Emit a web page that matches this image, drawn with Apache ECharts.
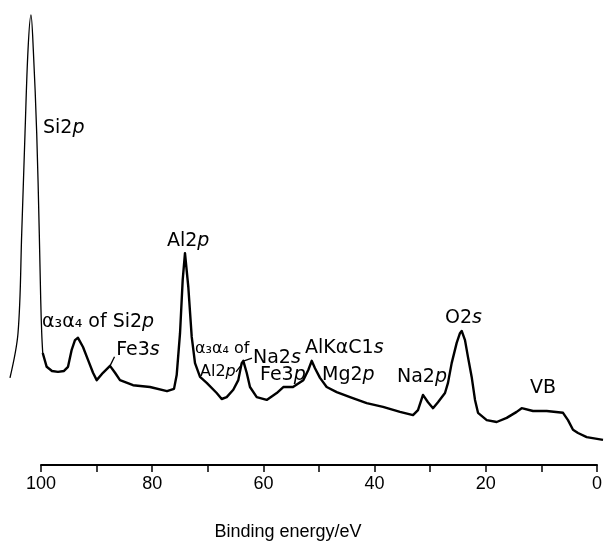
<!DOCTYPE html>
<html>
<head>
<meta charset="utf-8">
<script src="https://cdn.jsdelivr.net/npm/echarts@6/dist/echarts.min.js"></script>
<style>
  html, body { margin: 0; padding: 0; background: #fff; }
  #chart { width: 605px; height: 546px; }
</style>
</head>
<body>
<div id="chart"></div>
<script>
// XPS survey of the shallow core levels and valence band (binding energy in eV, intensity in arbitrary units)
const energy = [
  105.57,104.13,103.46,102.87,102.33,101.80,101.38,100.77,100.31,100.05,
  99.87,99.69,98.98,98.03,96.95,95.87,95.15,94.49,93.90,93.36,
  92.46,91.56,90.66,90.00,88.87,87.61,86.71,85.82,83.48,80.43,
  77.38,76.12,75.64,75.04,74.56,74.15,73.55,72.94,72.35,71.45,
  70.25,68.46,67.56,66.66,65.48,64.58,63.97,63.68,63.07,62.48,
  61.27,59.48,57.68,56.50,54.76,52.91,52.01,51.40,50.81,49.91,
  48.71,46.91,44.52,41.53,38.60,35.55,33.21,32.32,31.42,30.52,
  29.62,28.73,27.47,26.93,26.27,25.37,24.78,24.47,23.88,23.34,
  22.68,22.08,21.54,19.98,18.19,16.39,14.60,13.70,11.67,9.21,
  6.28,5.39,4.49,3.59,2.03,-0.90
];
const intensity = [
  19.6,29.3,51.1,72.8,90.9,98.5,90.9,72.8,51.1,36.5,
  29.3,25.0,22.0,21.1,20.9,21.1,22.0,25.7,27.8,28.3,
  26.3,23.5,20.7,19.1,20.7,22.2,20.7,19.1,18.0,17.6,
  16.7,17.2,20.2,29.3,40.9,46.7,39.3,28.5,22.8,19.8,
  18.5,16.3,15.0,15.4,17.0,19.1,22.8,23.3,20.7,17.6,
  15.4,14.8,16.3,17.6,17.6,19.1,21.3,23.3,21.7,19.6,
  17.6,16.5,15.4,14.1,13.3,12.2,11.5,12.6,15.9,14.3,
  13.0,14.3,16.3,18.5,22.8,27.2,29.3,29.8,27.8,24.1,
  19.8,14.8,12.0,10.4,10.0,10.9,12.2,13.0,12.4,12.4,
  12.0,10.4,8.3,7.6,6.7,6.1
];

// Peak assignments and where their labels sit (energy, intensity of the label's left-middle point)
const peakLabels = [
  'Si2{i|p}', 'α₃α₄ of Si2{i|p}', 'Fe3{i|s}', 'Al2{i|p}', '{sm|α₃α₄ of}\n{smx|Al2}{smi|p}',
  'Na2{i|s}', 'Fe3{i|p}', 'AlKαC1{i|s}', 'Mg2{i|p}', 'Na2{i|p}', 'O2{i|s}', 'VB'
];
const labelEnergy    = [99.64, 99.82, 86.50, 77.38, 72.35, 61.94, 60.68, 52.60, 49.55, 36.09, 27.47, 12.21];
const labelIntensity = [73.9, 31.7, 25.7, 49.3, 23.5, 23.9, 20.2, 26.1, 20.2, 19.8, 32.6, 17.4];

// Short leader strokes from labels to their peaks: [E1, I1, E2, I2]
const leaders = [
  [87.61, 22.2, 86.80, 24.2],
  [64.99, 20.9, 63.91, 22.6],
  [63.55, 23.3, 62.12, 23.9]
];

// Scale: the drawn axis runs 100 -> 0 eV; the recorded sweep runs a little past both ends
const axisMin = 0, axisMax = 100;
const sweepMin = -1, sweepMax = 106;
const tickStep = 10;
const labelStep = 20;

const font = 'DejaVu Sans';
const ink = '#000';

// pixel layout of the drawn axis
const axisLeft = 41, axisRight = 7, plotTop = 8, plotBottom = 78;
const W = 605;
const pxPerEv = (W - axisLeft - axisRight) / (axisMax - axisMin);
const sweepLeft = axisLeft - (sweepMax - axisMax) * pxPerEv;
const sweepRight = axisRight - (axisMin - sweepMin) * pxPerEv;

const points = energy.map((e, i) => [e, intensity[i]]);
const splitAt = 11; // sharp Si 2p peak drawn with a finer pen than the noisy remainder

const chart = echarts.init(document.getElementById('chart'), null, { renderer: 'canvas' });

chart.setOption({
  animation: false,
  backgroundColor: '#fff',
  grid: [
    { left: axisLeft, right: axisRight, top: plotTop, bottom: plotBottom },
    { left: sweepLeft, right: sweepRight, top: plotTop, bottom: plotBottom }
  ],
  xAxis: [
    {
      gridIndex: 0,
      type: 'value',
      inverse: true,
      min: axisMin,
      max: axisMax,
      interval: tickStep,
      name: 'Binding energy/eV',
      nameLocation: 'middle',
      nameGap: 58,
      nameTextStyle: { fontFamily: 'Liberation Sans', fontSize: 18, color: ink, padding: [0, 62, 0, 0] },
      axisLine: { show: true, lineStyle: { color: ink, width: 2 } },
      axisTick: { show: true, length: 7, lineStyle: { color: ink, width: 1.5 } },
      axisLabel: {
        show: true,
        margin: 10,
        fontFamily: 'Liberation Sans',
        fontSize: 18,
        color: ink,
        formatter: v => (v % labelStep === 0 ? String(v) : '')
      },
      splitLine: { show: false }
    },
    {
      gridIndex: 1,
      type: 'value',
      inverse: true,
      min: sweepMin,
      max: sweepMax,
      show: false
    }
  ],
  yAxis: [
    { gridIndex: 0, type: 'value', min: 0, max: 100, show: false },
    { gridIndex: 1, type: 'value', min: 0, max: 100, show: false }
  ],
  series: [
    {
      type: 'line',
      xAxisIndex: 1,
      yAxisIndex: 1,
      data: points.slice(0, splitAt + 1),
      symbol: 'none',
      smooth: 0.35,
      lineStyle: { color: ink, width: 1.3 }
    },
    {
      type: 'line',
      xAxisIndex: 1,
      yAxisIndex: 1,
      data: points.slice(splitAt),
      symbol: 'none',
      lineStyle: { color: ink, width: 2.4, join: 'round' },
      markLine: {
        silent: true,
        symbol: 'none',
        label: { show: false },
        lineStyle: { color: ink, width: 1.3, type: 'solid' },
        data: leaders.map(l => [{ coord: [l[0], l[1]] }, { coord: [l[2], l[3]] }])
      }
    },
    {
      type: 'scatter',
      xAxisIndex: 1,
      yAxisIndex: 1,
      symbolSize: 0,
      silent: true,
      itemStyle: { opacity: 1 },
      data: peakLabels.map((t, i) => ({ value: [labelEnergy[i], labelIntensity[i]], text: t })),
      label: {
        show: true,
        position: 'right',
        distance: 0,
        fontFamily: font,
        fontSize: 19,
        color: ink,
        lineHeight: 23,
        formatter: p => p.data.text,
        rich: {
          i: { fontFamily: font, fontSize: 19, fontStyle: 'italic', color: ink },
          sm: { fontFamily: font, fontSize: 16, color: ink, lineHeight: 23 },
          smx: { fontFamily: font, fontSize: 16, color: ink, lineHeight: 23, padding: [0, 0, 0, 5] },
          smi: { fontFamily: font, fontSize: 16, fontStyle: 'italic', color: ink, lineHeight: 23 }
        }
      }
    }
  ]
});
</script>
</body>
</html>
